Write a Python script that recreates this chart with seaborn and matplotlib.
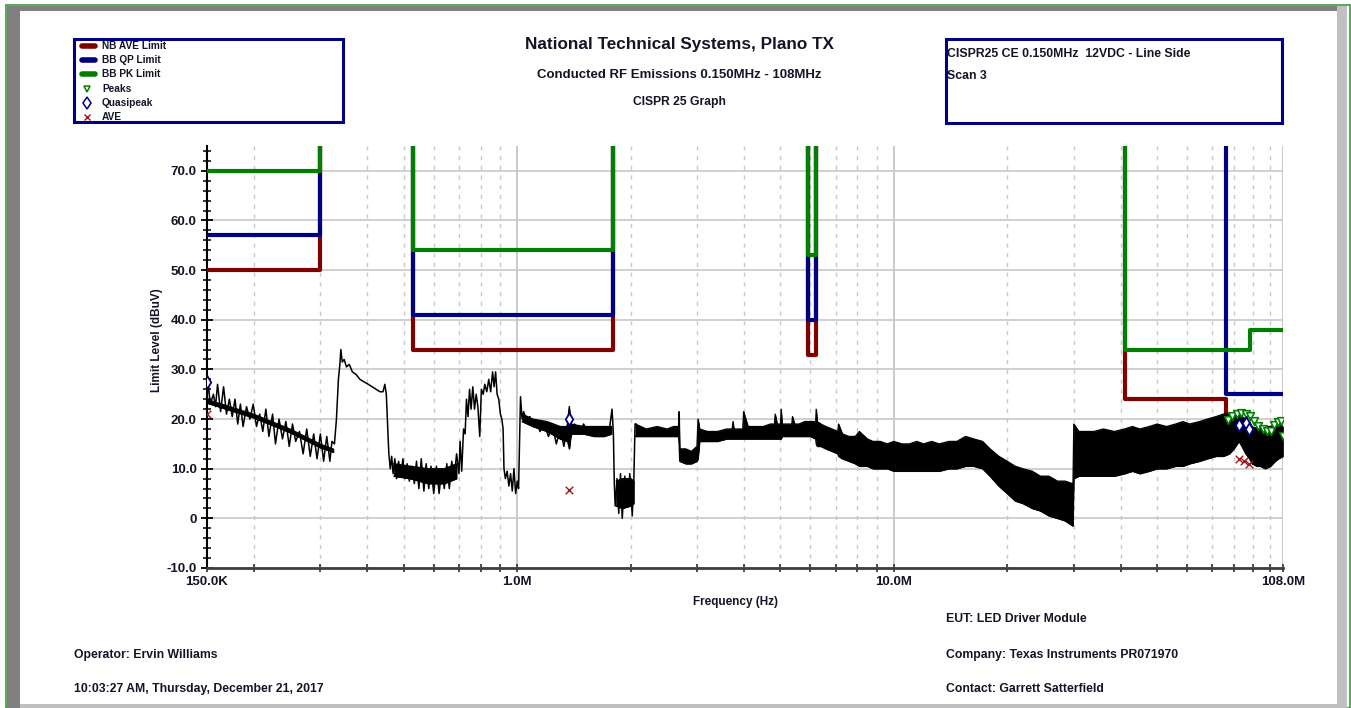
import matplotlib
matplotlib.use("Agg")
import matplotlib.pyplot as plt
import seaborn as sns
import numpy as np
from matplotlib.patches import Rectangle
from matplotlib.lines import Line2D
from matplotlib.ticker import FixedLocator, FixedFormatter, MultipleLocator, NullFormatter

# ---------------- data (frequencies in MHz, levels in dBuV) ----------------
ave_start = [0.15, 0.53, 5.9, 41, 76]
ave_stop = [0.30, 1.8, 6.2, 76, 108]
ave_level = [50, 34, 33, 24, 18]

qp_start = [0.15, 0.53, 5.9, 76]
qp_stop = [0.30, 1.8, 6.2, 108]
qp_level = [57, 41, 40, 25]

pk_start = [0.15, 0.53, 5.9, 41, 88]
pk_stop = [0.30, 1.8, 6.2, 88, 108]
pk_level = [70, 54, 53, 34, 38]

trace_f = [0.150, 0.151, 0.153, 0.156, 0.158, 0.160, 0.163, 0.166, 0.169, 0.172,
           0.175, 0.178, 0.181, 0.184, 0.187, 0.191, 0.195, 0.199, 0.203, 0.207,
           0.211, 0.215, 0.219, 0.224, 0.228, 0.233, 0.238, 0.243, 0.248, 0.253,
           0.258, 0.264, 0.270, 0.276, 0.282, 0.288, 0.294, 0.300, 0.306, 0.312,
           0.318, 0.322, 0.327, 0.331, 0.335, 0.338, 0.340, 0.343, 0.347, 0.352,
           0.358, 0.365, 0.373, 0.382, 0.392, 0.402, 0.412, 0.422, 0.432, 0.440,
           0.445, 0.449, 0.452, 0.456, 0.460, 0.464, 0.468, 0.473, 0.478, 0.484,
           0.490, 0.497, 0.503, 0.510, 0.517, 0.525, 0.533, 0.540, 0.548, 0.556,
           0.565, 0.573, 0.582, 0.590, 0.600, 0.610, 0.620, 0.630, 0.640, 0.650,
           0.660, 0.670, 0.680, 0.690, 0.700, 0.705, 0.712, 0.720, 0.727, 0.733,
           0.740, 0.747, 0.754, 0.762, 0.770, 0.778, 0.786, 0.795, 0.803, 0.812,
           0.820, 0.830, 0.840, 0.850, 0.860, 0.868, 0.876, 0.884, 0.893, 0.902,
           0.910, 0.917, 0.922, 0.930, 0.940, 0.950, 0.960, 0.970, 0.980, 0.990,
           1.000, 1.008, 1.014, 1.020, 1.030, 1.040, 1.060, 1.080, 1.100, 1.120,
           1.150, 1.180, 1.210, 1.240, 1.270, 1.300, 1.330, 1.360, 1.375, 1.390,
           1.420, 1.460, 1.500, 1.550, 1.600, 1.650, 1.700, 1.750, 1.785, 1.800,
           1.810, 1.820, 1.840, 1.860, 1.880, 1.900, 1.930, 1.960, 1.990, 2.020,
           2.040, 2.055, 2.070]
trace_db = [24, 27.5, 23, 25, 22.5, 27, 21.5, 26.5, 21, 24,
            20.5, 24, 19, 23, 18.5, 22.5, 20, 23, 18.5, 21,
            17.5, 22, 16.5, 21, 15, 20, 16, 19.5, 14.5, 19,
            15.5, 17.5, 13, 18, 12.5, 17, 12, 17, 11.5, 16.5,
            11.5, 15.5, 15, 20, 28, 31, 34, 31.5, 32, 30.5,
            31, 29.5, 29, 28, 27.5, 27, 26.5, 26, 25.5, 25.5,
            27, 25, 20, 13, 10, 12.5, 9, 12, 8, 11.5,
            8.5, 12, 8, 11, 7.5, 10.5, 7, 11.5, 6, 12,
            5.5, 11, 6, 10.5, 5, 10.5, 5, 10, 6, 11,
            6, 11.5, 8, 13, 9, 15.5, 9.5, 18, 17, 24,
            20.5, 26, 22, 26.5, 22, 25, 22.5, 16.5, 26, 25,
            27, 25.5, 28, 25.5, 29.5, 26.5, 29.5, 25, 24, 21,
            20, 18, 10, 8, 9.5, 6.5, 9, 5.5, 10, 5,
            7.5, 6, 15, 24.5, 20, 21.5, 19.5, 20.5, 18.5, 19.5,
            17.5, 19, 16.5, 18.5, 15, 18, 14.5, 19, 22.5, 16.5,
            19, 17, 19, 17, 18.5, 16.5, 18.5, 17, 22, 17,
            7, 2.5, 8, 1, 9, 0, 8.5, 3, 9, 0.5,
            8, 19, 19]

# dense cores of the trace below 2 MHz
core_f = [0.150, 0.20, 0.25, 0.30, 0.325]
core_hi = [24, 21, 18, 15, 14]
core_lo = [23.2, 20.2, 17.2, 14.2, 13.3]
core2_f = [0.47, 0.52, 0.58, 0.64, 0.69]
core2_hi = [11, 10.5, 10, 10, 11]
core2_lo = [8.5, 8, 7, 7, 8]
core3_f = [1.03, 1.1, 1.2, 1.3, 1.36, 1.375, 1.39, 1.5, 1.6, 1.7, 1.78]
core3_hi = [21, 20, 19.5, 18.5, 18.5, 22, 19, 18.5, 18.5, 18.5, 18.5]
core3_lo = [19.5, 18.5, 17.5, 16, 15.5, 14, 17, 17, 16.5, 16.5, 17]
core4_f = [1.83, 1.9, 2.0, 2.04]
core4_hi = [7.5, 8, 8, 7.5]
core4_lo = [2.5, 2, 2.5, 3]

band_f = [2.06, 2.2, 2.35, 2.5, 2.6, 2.68, 2.69, 2.70, 2.8, 2.9,
          3.0, 3.02, 3.05, 3.2, 3.4, 3.6, 3.72, 3.74, 3.76, 3.9,
          3.97, 3.99, 4.1, 4.3, 4.5, 4.7, 4.82, 4.84, 4.9, 5.0,
          5.02, 5.05, 5.2, 5.36, 5.38, 5.45, 5.6, 5.8, 6.0, 6.2,
          6.22, 6.26, 6.4, 6.6, 6.85, 7.1, 7.13, 7.3, 7.6, 7.9,
          8.1, 8.5, 8.8, 9.2, 9.6, 10, 10.5, 11, 11.5, 12,
          12.6, 13.2, 14, 14.7, 15.5, 16.3, 17.2, 18, 19, 20,
          21, 22, 23.3, 24.5, 25.8, 27.2, 28.5, 29.8, 29.9, 30.05,
          31, 32.5, 34, 36, 38.5, 41, 43, 45, 47.7, 50,
          53, 56, 58.6, 61, 64.8, 68, 71.7, 75, 77.8, 80,
          82.5, 84, 86, 88, 89.4, 92, 94, 96.9, 100, 103,
          105, 108]
band_hi = [19, 18, 18.5, 18, 18.5, 18.5, 21.5, 14, 14, 13.5,
           14.5, 20, 18, 17.5, 17.5, 18, 18, 19.5, 18, 18,
           18, 21.5, 18.5, 18.5, 18.5, 19, 19, 21, 19, 19,
           22, 19, 19, 19, 20.5, 19, 19, 19.5, 19.5, 19.5,
           22, 19.5, 19, 18.5, 18, 17.5, 19, 17, 16.5, 16.5,
           17.5, 16, 15.5, 15.5, 15, 15.5, 15, 15, 15.5, 15,
           15.5, 15, 15.5, 15.5, 16.5, 16, 15.5, 14, 12.5, 11.5,
           10.5, 10, 9.5, 8.5, 8.5, 7.5, 7.5, 7, 7, 19,
           17.5, 17.5, 17.5, 18, 17.5, 18, 18.5, 18, 18.5, 19,
           18.5, 19, 19.5, 19, 19.5, 20, 20.5, 21, 21, 21,
           21, 20.5, 20, 19.5, 18.5, 18, 18.5, 18.5, 18.5, 19,
           19, 18.5]
band_lo = [16.5, 16.5, 16.5, 16.5, 16.5, 16.5, 15, 11.5, 11, 11,
           11.5, 12, 15.5, 15.5, 15.5, 16, 16, 16, 16, 16,
           16, 16, 16, 16, 16, 16, 16, 16, 16, 16,
           16, 16.5, 16.5, 16.5, 16.5, 16.5, 16.5, 16.5, 16.5, 16,
           15, 14.5, 14.5, 14, 13.5, 13, 12.5, 12, 11.5, 11,
           10.5, 10.5, 10, 10, 10, 9.5, 9.5, 9.5, 9.5, 9.5,
           9.5, 9.5, 10, 10, 10.5, 10.5, 10, 8.5, 6.5, 5,
           3.5, 3, 2, 1.5, 0.5, 0, -0.5, -1.5, -1.5, 8,
           8.5, 8.5, 8.5, 8.5, 8.5, 9, 9.5, 9, 9.5, 10,
           10, 10.5, 10.5, 11, 11.5, 12, 12.5, 12.5, 13, 14,
           15.5, 14.5, 13, 12, 11, 10.5, 10.5, 10, 10.5, 11.5,
           12, 12.5]

peaks_f = [77.1, 79.0, 81.4, 83.7, 86.0, 88.1, 90.3, 92.8, 95.5, 97.8, 100.3, 102.3, 104.9, 106.5, 108.0]
peaks_db = [19.9, 20.6, 21.1, 21.3, 21.1, 20.7, 19.6, 18.6, 17.9, 17.6, 17.6, 18.9, 19.5, 19.6, 16.6]
qpk_f = [0.150, 1.374, 82.5, 86.0, 87.6]
qpk_db = [27.4, 20.0, 18.9, 19.2, 17.9]
avg_f = [0.150, 1.374, 82.3, 85.3, 87.9]
avg_db = [21.1, 5.7, 11.9, 11.5, 10.9]

xmajor = [0.15, 1.0, 10.0, 108.0]
xmajor_labels = ["150.0K", "1.0M", "10.0M", "108.0M"]
ymajor = [-10, 0, 10, 20, 30, 40, 50, 60, 70]
ymajor_labels = ["-10.0", "0", "10.0", "20.0", "30.0", "40.0", "50.0", "60.0", "70.0"]

legend_labels = ["NB AVE Limit", "BB QP Limit", "BB PK Limit", "Peaks", "Quasipeak", "AVE"]
title_lines = ["National Technical Systems, Plano TX",
               "Conducted RF Emissions 0.150MHz - 108MHz",
               "CISPR 25 Graph"]
info_lines = ["CISPR25 CE 0.150MHz  12VDC - Line Side", "Scan 3"]

# ---------------- style ----------------
sns.set_style("white")
plt.rcParams["font.family"] = ["Liberation Sans", "DejaVu Sans"]
plt.rcParams["font.weight"] = "bold"

W, H = 1351, 708
XMIN, XMAX, YMIN, YMAX = 0.15, 108.0, -10, 75
RED, NAVY, GREEN = "#800000", "#000080", "#008000"
TXT = "#141428"

fig = plt.figure(figsize=(W / 100, H / 100), dpi=100)
fig.patch.set_facecolor("white")


def fx(x):
    return x / W


def fy(y):
    return 1 - y / H


def frect(x0, y0, x1, y1, **kw):
    fig.add_artist(Rectangle((fx(x0), fy(y1)), (x1 - x0) / W, (y1 - y0) / H,
                             transform=fig.transFigure, **kw))


# window frame
frect(6, 5, 1350, 708, facecolor="none", edgecolor="#3c9a3c", lw=1.2)
frect(7, 6, 1337, 11, facecolor="#808080", edgecolor="none")
frect(7, 6, 20, 708, facecolor="#808080", edgecolor="none")
frect(1337, 6, 1347, 708, facecolor="#c0c0c0", edgecolor="none")
frect(20, 704, 1337, 708, facecolor="#c0c0c0", edgecolor="none")

ax = fig.add_axes([fx(207), fy(568), (1283 - 207) / W, (568 - 146) / H])
ax.set_xscale("log")
ax.set_xlim(XMIN, XMAX)
ax.set_ylim(YMIN, YMAX)


def limit_path(starts, stops, levels, top):
    xs, ys = [], []
    n = len(starts)
    for i in range(n):
        a, b, lev = starts[i], stops[i], levels[i]
        if i > 0 and abs(starts[i] - stops[i - 1]) < 1e-9:
            xs += [a]
            ys += [lev]
        else:
            if a > XMIN:
                xs += [a, a]
                ys += [top, lev]
            else:
                xs += [a]
                ys += [lev]
        xs += [b]
        ys += [lev]
        if not (i < n - 1 and abs(stops[i] - starts[i + 1]) < 1e-9) and b < XMAX:
            xs += [b]
            ys += [top]
    return xs, ys


for st, sp, lv, col in [(ave_start, ave_stop, ave_level, RED),
                        (qp_start, qp_stop, qp_level, NAVY),
                        (pk_start, pk_stop, pk_level, GREEN)]:
    xs, ys = limit_path(st, sp, lv, YMAX + 20)
    sns.lineplot(x=xs, y=ys, sort=False, estimator=None, color=col, lw=3.0,
                 ax=ax, zorder=3, legend=False)

# trace
for bf, bl, bh, ew in [(band_f, band_lo, band_hi, 0.9), (core_f, core_lo, core_hi, 0.5),
                       (core2_f, core2_lo, core2_hi, 0.9), (core3_f, core3_lo, core3_hi, 0.9),
                       (core4_f, core4_lo, core4_hi, 0.9)]:
    ax.fill_between(bf, bl, bh, color="black", lw=0.5, zorder=4)
    sns.lineplot(x=bf, y=bh, sort=False, estimator=None, color="black", lw=ew, ax=ax, zorder=4)
    sns.lineplot(x=bf, y=bl, sort=False, estimator=None, color="black", lw=ew, ax=ax, zorder=4)
sns.lineplot(x=trace_f, y=trace_db, sort=False, estimator=None, color="black", lw=1.1,
             ax=ax, zorder=4)

# markers
sns.scatterplot(x=peaks_f, y=peaks_db, marker="v", s=30, facecolor="white",
                edgecolor=GREEN, linewidth=1.2, ax=ax, zorder=6)
sns.scatterplot(x=qpk_f, y=qpk_db, marker="d", s=40, facecolor="white",
                edgecolor=NAVY, linewidth=1.3, ax=ax, zorder=6)
sns.scatterplot(x=avg_f, y=avg_db, marker="x", s=30, color="#a01818",
                linewidth=1.0, ax=ax, zorder=6)

# axes styling
minor_x = [m * d for d in (0.1, 1.0, 10.0) for m in range(2, 11) if XMIN < m * d < XMAX]
minor_x = [v for v in minor_x if all(abs(v - mj) > 1e-9 for mj in xmajor)]
ax.xaxis.set_major_locator(FixedLocator(xmajor))
ax.xaxis.set_major_formatter(FixedFormatter(xmajor_labels))
ax.xaxis.set_minor_locator(FixedLocator(minor_x))
ax.xaxis.set_minor_formatter(NullFormatter())
ax.yaxis.set_major_locator(FixedLocator(ymajor))
ax.yaxis.set_major_formatter(FixedFormatter(ymajor_labels))
ax.yaxis.set_minor_locator(MultipleLocator(2))

ax.grid(False)
ax.grid(True, which="major", axis="y", color="#c8c8c8", lw=1.2, zorder=0)
ax.grid(True, which="major", axis="x", color="#c0c0c0", lw=1.2, zorder=0)
ax.grid(True, which="minor", axis="x", color="#c8c8c8", lw=1.0, ls=(0, (3, 4)), zorder=0)
ax.set_axisbelow(True)

for s in ("top", "right"):
    ax.spines[s].set_visible(False)
ax.spines["left"].set_color("black")
ax.spines["left"].set_linewidth(1.5)
ax.spines["bottom"].set_color("#404040")
ax.spines["bottom"].set_linewidth(2.0)

ax.tick_params(axis="y", which="major", direction="inout", length=9, width=1.3,
               color="black", labelsize=9.5, labelcolor=TXT, pad=3, left=True)
ax.tick_params(axis="y", which="minor", direction="inout", length=6, width=1.1,
               color="black", left=True)
ax.tick_params(axis="x", which="both", direction="inout", length=6, width=1.3,
               color="#404040", labelsize=9.5, labelcolor=TXT, pad=3, bottom=True)
for lab in ax.get_xticklabels() + ax.get_yticklabels():
    lab.set_fontweight("bold")

ax.set_xlabel("")
ax.set_ylabel("")
fig.text(fx(735), fy(602), "Frequency (Hz)", ha="center", va="center",
         fontsize=8.5, fontweight="bold", color=TXT)
fig.text(fx(157), fy(340), "Limit Level (dBuV)", ha="center", va="center",
         rotation=90, fontsize=8.5, fontweight="bold", color=TXT)

# titles
fig.text(fx(679), fy(44), title_lines[0], ha="center", va="center", fontsize=12.3,
         fontweight="bold", color=TXT)
fig.text(fx(679), fy(75), title_lines[1], ha="center", va="center", fontsize=9.5,
         fontweight="bold", color=TXT)
fig.text(fx(679), fy(102), title_lines[2], ha="center", va="center", fontsize=8.7,
         fontweight="bold", color=TXT)

# legend box
frect(74, 39, 343, 122, facecolor="white", edgecolor=NAVY, lw=2.2, zorder=1)
rows = [46, 60, 74, 89, 103, 117]
for i, (lab, r) in enumerate(zip(legend_labels, rows)):
    if i < 3:
        col = [RED, NAVY, GREEN][i]
        fig.add_artist(Line2D([fx(82), fx(95)], [fy(r), fy(r)], transform=fig.transFigure,
                              color=col, lw=4, solid_capstyle="round"))
    elif i == 3:
        fig.add_artist(Line2D([fx(87)], [fy(r)], transform=fig.transFigure, marker="v",
                              ms=5, mfc="white", mec=GREEN, mew=1.1, ls="none"))
    elif i == 4:
        fig.add_artist(Line2D([fx(87)], [fy(r)], transform=fig.transFigure, marker="d",
                              ms=6, mfc="white", mec=NAVY, mew=1.1, ls="none"))
    else:
        fig.add_artist(Line2D([fx(87)], [fy(r)], transform=fig.transFigure, marker="x",
                              ms=5, color="#a01818", mew=1.0, ls="none"))
    fig.text(fx(102), fy(r), lab, ha="left", va="center", fontsize=7.3,
             fontweight="bold", color=TXT)

# info box
frect(946, 39, 1282, 123, facecolor="white", edgecolor=NAVY, lw=2.2, zorder=1)
fig.text(fx(947), fy(54), info_lines[0], ha="left", va="center", fontsize=8.8,
         fontweight="bold", color=TXT)
fig.text(fx(947), fy(76), info_lines[1], ha="left", va="center", fontsize=8.8,
         fontweight="bold", color=TXT)

# footer
footer = [(946, 619, "EUT: LED Driver Module"),
          (74, 655, "Operator: Ervin Williams"),
          (946, 655, "Company: Texas Instruments PR071970"),
          (74, 689, "10:03:27 AM, Thursday, December 21, 2017"),
          (946, 689, "Contact: Garrett Satterfield")]
for x, y, t in footer:
    fig.text(fx(x), fy(y), t, ha="left", va="center", fontsize=8.8,
             fontweight="bold", color=TXT)

fig.savefig("out.png", dpi=100)
